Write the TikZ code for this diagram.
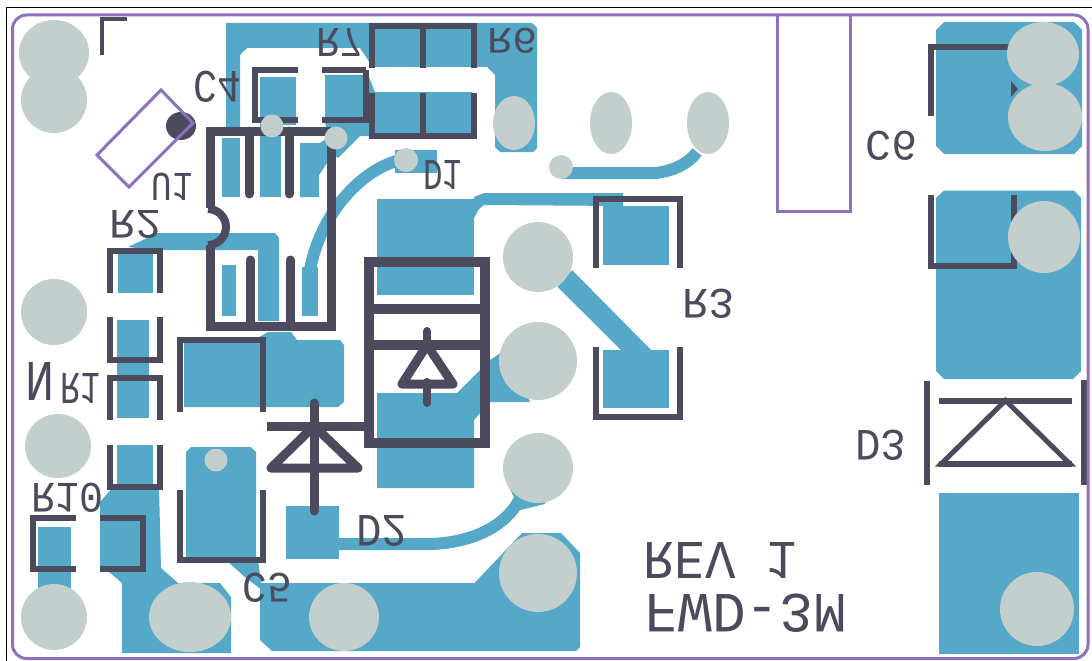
\documentclass[tikz,border=0pt]{standalone}
\usepackage{graphicx}
\usepackage{fontspec}
\setmainfont{Liberation Mono}
\definecolor{cu}{HTML}{56A8C8}
\definecolor{padg}{HTML}{C2CFCC}
\definecolor{silk}{HTML}{4B4B5D}
\definecolor{board}{HTML}{8E70BD}
\tikzset{
  cufill/.style={fill=cu,draw=none},
  trk/.style={draw=cu,line width=12pt},
  hole/.style={fill=padg,draw=none},
  sk/.style={draw=silk,line width=6pt,line join=miter},
  skb/.style={draw=silk,line width=9pt,line join=miter},
  edgeb/.style={draw=board,line width=3pt},
  lbl/.style={inner sep=0pt,outer sep=0pt,text=silk}
}
\newcommand{\flipt}[3]{\scalebox{1}[-1]{\resizebox{#1pt}{#2pt}{#3}}}
\newcommand{\lab}[6]{\node[lbl] (#1) at ({(#2+#3)/2},{(#4+#5)/2}) {\flipt{\the\numexpr#3-#2\relax}{\the\numexpr#5-#4\relax}{#6}};}
\begin{document}
\begin{tikzpicture}[x=1pt,y=-1pt]
\useasboundingbox (0,0) rectangle (1092,661);
\fill[white] (0,0) rectangle (1092,661);
\draw[black,line width=1.8pt] (6.5,661) -- (6.5,7.5) -- (1092,7.5);
% ---- copper
\fill[cufill] (226,23) -- (532,23) -- (537,28) -- (537,148) -- (533,152) -- (500,152) -- (495,147) -- (495,75) -- (487,67) -- (372,67) -- (368,60) -- (360,48) -- (247,48) -- (240,55) -- (240,135) -- (226,135) -- cycle;
\fill[cufill] (325,75) -- (368,75) -- (375,92) -- (472,92) -- (472,136) -- (360,136) -- (338,158) -- (328,150) -- (325,120) -- cycle;
\fill[cufill] (260,77) rectangle (296,125);
\fill[cufill] (222,138) rectangle (240,197);
\fill[cufill] (260,125) rectangle (281,197);
\fill[cufill] (300,143) -- (320,143) -- (336,132) -- (336,150) -- (319,175) -- (319,197) -- (300,197) -- cycle;
\fill[cufill] (395,150) rectangle (437,173);
\draw[trk] (400,160) .. controls (360,170) and (320,215) .. (310,270);
\fill[cufill] (302,267) rectangle (318,316);
\fill[cufill] (222,265) rectangle (236,316);
\fill[cufill] (128,247) -- (158,233) -- (275,233) -- (279,238) -- (279,321) -- (258,321) -- (258,250) -- (155,250) -- cycle;
\fill[cufill] (117.5,253) rectangle (153,293);
\fill[cufill] (117,320) rectangle (149,418);
\fill[cufill] (117,445) rectangle (153,487);
\fill[cufill] (113,487) -- (159,487) -- (161,568) -- (178,583) -- (220,583) -- (231,597) -- (231,653) -- (122,653) -- (122,583) -- (109,572) -- (100,568) -- (100,502) -- cycle;
\fill[cufill] (38,527) rectangle (71,600);
\fill[cufill] (184,343) -- (249,343) -- (268,332) -- (291,332) -- (297,340) -- (340,340) -- (344,345) -- (344,402) -- (338,407) -- (184,407) -- cycle;
\fill[cufill] (191,447) -- (251,447) -- (256,452) -- (256,560) -- (258,560) -- (262,590) -- (246,578) -- (226,560) -- (186,560) -- (186,452) -- cycle;
\fill[cufill] (260,583) -- (474.5,583) -- (522,533) -- (561,533) -- (580,553) -- (580,647) -- (576,651) -- (272,651) -- (260,640) -- cycle;
\fill[cufill] (286,506) rectangle (339,559);
\draw[trk] (335,544) -- (432,544) .. controls (475,542) and (510,525) .. (523,492);
\fill[cufill] (509,487) -- (545,487) -- (545,504) -- (520,510) -- cycle;
\fill[cufill] (377,199) rectangle (474,295);
\fill[cufill] (474,218) -- (474,199) -- (474,197) -- (484,193) -- (623,193) -- (623,206) -- (484,205) -- (479,209) -- cycle;
\fill[cufill] (377,393) -- (457,393) -- (490,360) -- (505,350) -- (530,402) -- (490,402) -- (474,420) -- (474,488) -- (377,488) -- cycle;
\fill[cufill] (603,206) rectangle (669,265);
\fill[cufill] (603,350) rectangle (669,408);
\fill[cufill] (557.6,287) -- (572,270) -- (651,350) -- (621,350) -- cycle;
\draw[trk] (561,173) -- (656,173) .. controls (672,171) and (687,165) .. (697,152);
\fill[cufill] (936,30) -- (944,22) -- (1074,22) -- (1082,30) -- (1082,146) -- (1074,154) -- (944,154) -- (936,146) -- cycle;
\fill[cufill] (936,198) -- (944,190.5) -- (1074,190.5) -- (1081,198) -- (1081,371) -- (1073,379) -- (944,379) -- (936,371) -- cycle;
\fill[cufill] (939,493) rectangle (1079,653.5);
% ---- silk
\draw[draw=silk,line width=4pt] (127,19.5) -- (102,19.5) -- (102,55);
\draw[skb] (331,145) -- (331,326) -- (210,326) -- (210,245);
\draw[skb] (210,208) -- (210,131) -- (331,131);
\draw[draw=silk,line width=8pt] (208,209) arc[start angle=-90,end angle=90,radius=18];
\draw[skb,line cap=round] (249,131) -- (249,194);
\draw[skb,line cap=round] (289,131) -- (289,194);
\draw[skb,line cap=round] (250,326) -- (250,260);
\draw[skb,line cap=round] (290,326) -- (290,260);
\draw[sk] (298,70.5) -- (255,70.5) -- (255,120) -- (298,120);
\draw[sk] (322,70.5) -- (366,70.5);
\draw[sk] (322,120) -- (368,120);
\draw[sk] (366,70.5) -- (366,123);
\draw[sk] (372,68) -- (372,26) -- (474,26) -- (474,68);
\draw[sk] (423,26) -- (423,68);
\draw[sk] (372,93) -- (372,135.5) -- (474,135.5) -- (474,93);
\draw[sk] (423,93) -- (423,135);
\draw[sk] (110,293) -- (110,250.5) -- (160,250.5) -- (160,293);
\draw[sk] (110,317) -- (110,360) -- (160,360) -- (160,317);
\draw[sk] (110,420) -- (110,378) -- (160,378) -- (160,420);
\draw[sk] (110,445) -- (110,487) -- (160,487) -- (160,445);
\draw[sk] (76,518) -- (33,518) -- (33,569) -- (76,569);
\draw[sk] (100,518) -- (143,518) -- (143,569) -- (100,569);
\draw[sk] (180,412) -- (180,340) -- (263,340) -- (263,412);
\draw[sk] (180,490) -- (180,560) -- (263,560) -- (263,490);
% D1 box
\draw[draw=silk,line width=10pt,line join=miter] (368.5,262) rectangle (484.5,442.5);
\draw[draw=silk,line width=10pt] (368,308.5) -- (484,308.5);
\draw[draw=silk,line width=10pt] (368,345) -- (484,345);
\draw[draw=silk,line width=9pt,line join=round] (402,384) -- (427,345) -- (453,384) -- cycle;
\draw[draw=silk,line width=8pt,line cap=round] (427,331) -- (427,345);
\draw[draw=silk,line width=8pt,line cap=round] (427,382) -- (427,403);
% D2
\draw[draw=silk,line width=9pt,line join=round] (271,468) -- (314,426) -- (358,468) -- cycle;
\draw[draw=silk,line width=9pt] (267,426) -- (365,426);
\draw[draw=silk,line width=9pt,line cap=round] (314,403) -- (314,511);
% R3
\draw[sk] (596,268) -- (596,198.5) -- (680,198.5) -- (680,268);
\draw[sk] (596,347) -- (596,417) -- (680,417) -- (680,347);
% C6
\draw[sk] (1012,47) -- (931,47) -- (931,116);
\fill[silk] (1011,81) -- (1018,89) -- (1011,97) -- cycle;
\draw[sk] (931,195) -- (931,266) -- (1014,266) -- (1014,195);
% D3
\draw[sk] (927,381) -- (927,485);
\draw[sk] (1084,380) -- (1084,485);
\draw[sk] (939,400.5) -- (1072,400.5);
\draw[draw=silk,line width=5pt,line join=miter] (1005.5,400.5) -- (941,464) -- (1070,464) -- cycle;
\draw[sk] (939,464) -- (1072,464);
% ---- drill holes
\fill[hole] (54,53) ellipse[x radius=35,y radius=33];
\fill[hole] (54,100) ellipse[x radius=33,y radius=33];
\fill[hole] (54,312) ellipse[x radius=33,y radius=33];
\fill[hole] (58,446) ellipse[x radius=33,y radius=32];
\fill[hole] (54,617) ellipse[x radius=33,y radius=33];
\fill[hole] (190,617) ellipse[x radius=41,y radius=35];
\fill[hole] (344,617) ellipse[x radius=35,y radius=34];
\fill[hole] (538,573) ellipse[x radius=39,y radius=39];
\fill[hole] (538,257) ellipse[x radius=35,y radius=35];
\fill[hole] (538,361) ellipse[x radius=39,y radius=39];
\fill[hole] (538,468) ellipse[x radius=35,y radius=35];
\fill[hole] (514,123) ellipse[x radius=21,y radius=27];
\fill[hole] (611,123) ellipse[x radius=21,y radius=31];
\fill[hole] (708,123) ellipse[x radius=21,y radius=31];
\fill[hole] (272,126) circle[radius=11.5];
\fill[hole] (336,138) circle[radius=11.5];
\fill[hole] (406,160) circle[radius=12];
\fill[hole] (216,460) circle[radius=11.5];
\fill[hole] (561,167) circle[radius=12];
\fill[hole] (1043,54) ellipse[x radius=36,y radius=32];
\fill[hole] (1045,117) ellipse[x radius=37,y radius=34];
\fill[hole] (1044,237) ellipse[x radius=36,y radius=36];
\fill[hole] (1037,609) ellipse[x radius=37,y radius=37];
% ---- U1 marker and board edge
\fill[silk] (181,126) ellipse[x radius=15,y radius=14];
\draw[edgeb,line join=miter] (161,90) -- (193,123) -- (129,187) -- (97,155) -- cycle;
\draw[edgeb] (777,15) -- (777,211) -- (850,211) -- (850,15);
\draw[edgeb,rounded corners=14pt] (12.5,15) rectangle (1088,658.5);
% ---- labels
\lab{tR7}{316}{363}{29}{57}{R7}
\lab{tR6}{487}{537}{28}{53}{R6}
\lab{tC4}{194}{242}{71}{102}{C4}
\lab{tU1}{152}{193}{173}{200}{U1}
\lab{tD1}{423}{462}{161}{190}{D1}
\lab{tR2}{110}{162}{210}{238}{R2}
\lab{tR3}{682}{734}{289}{318}{R3}
\lab{tC6}{865}{917}{131}{160}{C6}
\lab{tD3}{855}{906}{430}{460}{D3}
\lab{tN}{26}{55}{362}{400}{N}
\lab{tR1}{61}{101}{373}{403}{R1}
\lab{tR10}{32}{104}{483}{512}{R10}
\lab{tC5}{243}{292}{573}{602}{C5}
\lab{tD2}{356}{407}{515}{546}{D2}
\lab{tREV}{644}{797}{542}{578}{REV 1}
\lab{tFWD}{645}{847}{594}{632}{FWD-3M}
\end{tikzpicture}
\end{document}
